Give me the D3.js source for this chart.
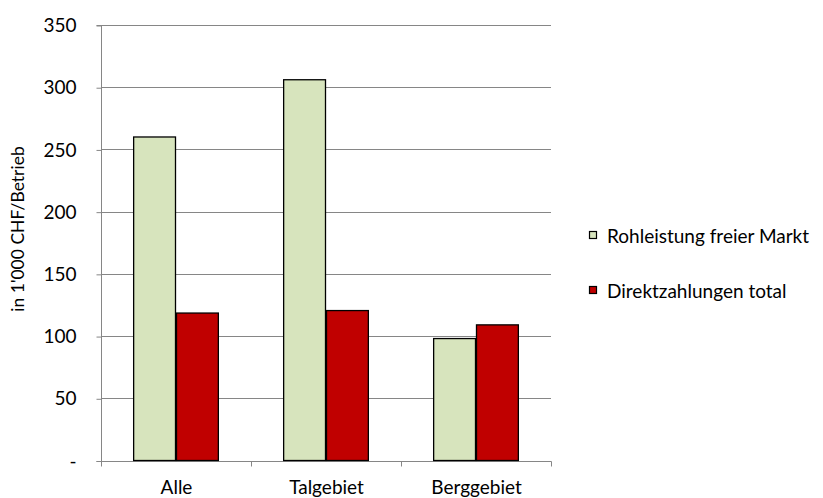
<!DOCTYPE html>
<html>
<head>
<meta charset="utf-8">
<script src="https://cdn.jsdelivr.net/npm/d3@7"></script>
<style>
  body { margin: 0; background: #fff; }
  text { font-family: Lato, "Open Sans", sans-serif; fill: #000; }
</style>
</head>
<body>
<svg id="chart" width="823" height="498"></svg>
<script>
const categories = ["Alle", "Talgebiet", "Berggebiet"];
const seriesNames = ["Rohleistung freier Markt", "Direktzahlungen total"];
const rohleistung = [260, 306, 98];
const direktzahlungen = [118.5, 120.5, 109];
const yTicks = [0, 50, 100, 150, 200, 250, 300, 350];
const colors = ["#d7e4bd", "#c00000"];

const FS = "19px";
const svg = d3.select("#chart");
const margin = { left: 101, right: 272, top: 25, bottom: 37.5 };
const W = 823, H = 498;
const x0 = margin.left, x1 = W - margin.right;
const yTop = margin.top, yBot = H - margin.bottom;

const x = d3.scaleBand().domain(categories).range([x0, x1]).paddingInner(0).paddingOuter(0);
const y = d3.scaleLinear().domain([0, 350]).range([yBot, yTop]);
// each group: two bars, gap width 150% of a bar
const barW = x.bandwidth() / (2 + 1.5);
const sub = d3.scaleBand().domain([0, 1]).range([barW * 0.75, barW * 2.75]);

// gridlines
svg.append("g").selectAll("line").data(yTicks.filter(d => d > 0)).join("line")
  .attr("x1", x0).attr("x2", x1)
  .attr("y1", d => Math.round(y(d)) + 0.5).attr("y2", d => Math.round(y(d)) + 0.5)
  .attr("stroke", "#868686").attr("stroke-width", 1);

// y axis
const yAxis = d3.axisLeft(y).tickValues(yTicks).tickSize(5).tickPadding(20)
  .tickFormat(d => d === 0 ? "-" : d3.format("d")(d));
const gy = svg.append("g").attr("transform", `translate(${x0 + 0.5},0.5)`).call(yAxis);
gy.select(".domain").attr("stroke", "#868686").attr("d", `M-5,${Math.round(yTop)}H0V${Math.round(yBot)}H-5`);
gy.selectAll(".tick line").attr("stroke", "#868686");
gy.selectAll(".tick text").attr("font-size", FS).attr("font-family", "Lato, sans-serif").attr("fill", "#000");

// x axis
const gx = svg.append("g").attr("transform", `translate(0.5,${Math.round(yBot) + 0.5})`);
gx.append("line").attr("x1", x0).attr("x2", x1).attr("stroke", "#868686");
gx.selectAll("line.tk").data(categories.concat(["end"])).join("line").attr("class", "tk")
  .attr("x1", (d, i) => x0 + i * x.bandwidth()).attr("x2", (d, i) => x0 + i * x.bandwidth())
  .attr("y1", 0).attr("y2", 5).attr("stroke", "#868686");
gx.selectAll("text").data(categories).join("text")
  .attr("x", d => x(d) + x.bandwidth() / 2).attr("y", 32)
  .attr("text-anchor", "middle").attr("font-size", FS).text(d => d);

// bars
const rows = categories.map((c, i) => ({ cat: c, vals: [rohleistung[i], direktzahlungen[i]] }));
svg.append("g").selectAll("g").data(rows).join("g")
  .attr("transform", d => `translate(${x(d.cat)},0)`)
  .selectAll("rect").data(d => d.vals.map((v, k) => ({ v, k }))).join("rect")
  .attr("x", d => sub(d.k) + 0.5).attr("width", barW - 1)
  .attr("y", d => y(d.v)).attr("height", d => y(0) - y(d.v))
  .attr("fill", d => colors[d.k]).attr("stroke", "#000").attr("stroke-width", 1.3);

// y axis title
svg.append("text").attr("transform", "translate(24,229) rotate(-90)")
  .attr("text-anchor", "middle").attr("font-size", "17.5px").text("in 1'000 CHF/Betrieb");

// legend
const lg = svg.append("g").attr("transform", "translate(589,231)");
seriesNames.forEach((n, i) => {
  const g = lg.append("g").attr("transform", `translate(0,${i * 55})`);
  g.append("rect").attr("x", 0.5).attr("y", 0.5).attr("width", 7).attr("height", 7)
    .attr("fill", colors[i]).attr("stroke", "#000").attr("stroke-width", 1.2);
  g.append("text").attr("x", 18).attr("y", 12).attr("font-size", FS).text(n);
});
</script>
</body>
</html>
